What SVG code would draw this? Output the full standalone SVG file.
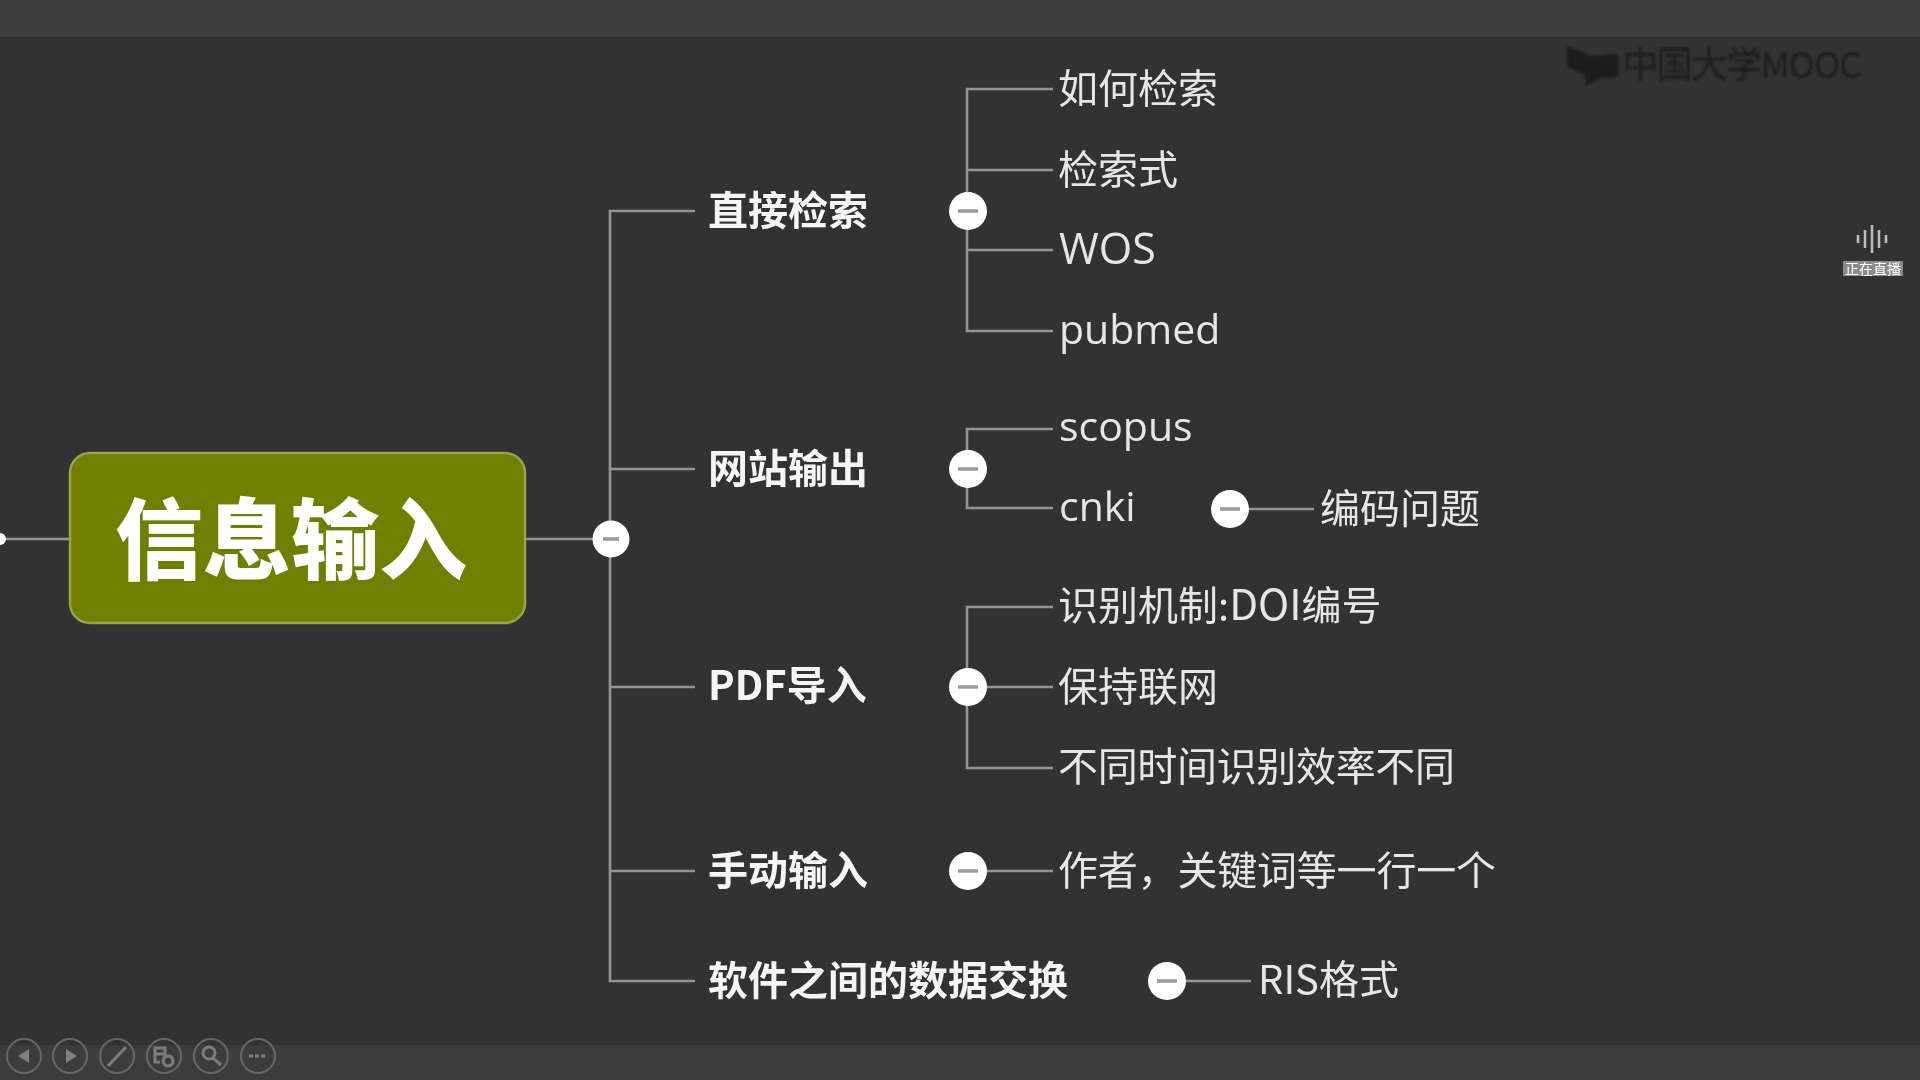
<svg xmlns="http://www.w3.org/2000/svg" width="1920" height="1080" viewBox="0 0 1920 1080">
<style>
.conn{fill:none;stroke:#949494;stroke-width:2.6}
.hub{fill:#fff}
.minus{stroke:#999;stroke-width:3.5;fill:none}
text{font-family:"Open Sans","Noto Sans CJK SC",sans-serif;fill:#e6e6e6;font-size:41px;filter:url(#soft)}
.cn{font-family:"Noto Sans CJK SC",sans-serif;font-weight:400;font-size:40px}
.b{font-family:"Noto Sans CJK SC",sans-serif;font-weight:700;fill:#f5f5f5;font-size:40px}
.tool{fill:none;stroke:#666;stroke-width:2}
.ic{fill:none;stroke:#7c7c7c;stroke-width:3}
.icf{fill:#808080}
</style>
<defs>
<filter id="soft" x="-5%" y="-20%" width="110%" height="140%"><feGaussianBlur stdDeviation="0.7"/></filter>
<filter id="soft2" x="-5%" y="-20%" width="110%" height="140%"><feGaussianBlur stdDeviation="1"/></filter>
</defs>
<rect id="background" width="1920" height="1080" fill="#323232"/>
<rect id="top-bar" width="1920" height="37" fill="#3e3e3e"/>
<rect id="bottom-bar" y="1045" width="1920" height="35" fill="#3c3c3c"/>

<g id="watermark" filter="url(#soft2)">
<path d="M1567 46 L1590 56 L1618 54 L1618 77 L1600 78 L1586 86 L1584 74 L1567 66Z" fill="#1c1c1c"/>
<text x="1622" y="78" style="font-size:36px;fill:#1e1e1e;font-family:'Noto Sans CJK SC',sans-serif;font-weight:400;filter:none" textLength="240">中国大学MOOC</text>
</g>
<g id="live-indicator" filter="url(#soft)">
<path d="M1858 235v8M1865 230v18M1872 225v28M1879 230v18M1886 235v8" stroke="#bdbdbd" stroke-width="2.5" fill="none"/>
<rect x="1843" y="261" width="60" height="15" fill="#8a8a8a"/>
<text x="1873" y="274" text-anchor="middle" style="font-size:14px;fill:#fff;font-family:'Noto Sans CJK SC',sans-serif;filter:none">正在直播</text>
</g>

<g id="connectors" filter="url(#soft)">
<path class="conn" d="M0 539H70"/>
<path class="conn" d="M525 539H611"/>
<path class="conn" d="M695 211H610V981H695"/>
<path class="conn" d="M610 469H695M610 687H695M610 871H695"/>
<path class="conn" d="M1053 89H967V331H1053"/>
<path class="conn" d="M967 170H1053M967 250H1053"/>
<path class="conn" d="M1053 429H967V508H1053"/>
<path class="conn" d="M1314 509H1229"/>
<path class="conn" d="M1053 607H967V768H1053"/>
<path class="conn" d="M967 687H1053"/>
<path class="conn" d="M967 871H1053"/>
<path class="conn" d="M1167 981H1251"/>
</g>

<g id="end-dot"><circle cx="0" cy="539" r="6" class="hub"/></g>

<g id="root">
<rect x="70" y="453" width="455" height="170" rx="20" fill="#6f8000" stroke="#96a54a" stroke-width="2.5"/>
<text x="291" y="572" text-anchor="middle" class="b" style="font-size:88px;font-weight:900;fill:#fff">信息输入</text>
</g>
<g id="hub-root"><circle cx="611" cy="539" r="18.5" class="hub"/><path class="minus" d="M603 539H619"/></g>

<g id="n-zhijie">
<text x="708" y="225" class="b">直接检索</text>
<circle cx="968" cy="211" r="19" class="hub"/><path class="minus" d="M958 211H978"/>
</g>
<g id="n-rugao"><text x="1058" y="103" class="cn">如何检索</text></g>
<g id="n-jiansuoshi"><text x="1058" y="184" class="cn">检索式</text></g>
<g id="n-wos"><text x="1059" y="264" style="font-size:43px">WOS</text></g>
<g id="n-pubmed"><text x="1059" y="344">pubmed</text></g>

<g id="n-wangzhan">
<text x="708" y="483" class="b">网站输出</text>
<circle cx="968" cy="469" r="19" class="hub"/><path class="minus" d="M958 469H978"/>
</g>
<g id="n-scopus"><text x="1059" y="441">scopus</text></g>
<g id="n-cnki">
<text x="1059" y="521">cnki</text>
<circle cx="1230" cy="509" r="19" class="hub"/><path class="minus" d="M1220 509H1240"/>
</g>
<g id="n-bianma"><text x="1320" y="523" class="cn">编码问题</text></g>

<g id="n-pdf">
<text x="708" y="700" class="b">PDF导入</text>
<circle cx="968" cy="687" r="19" class="hub"/><path class="minus" d="M958 687H978"/>
</g>
<g id="n-shibie"><text x="1058" y="620" class="cn">识别机制:<tspan style="font-size:42px">DOI</tspan>编号</text></g>
<g id="n-baochi"><text x="1058" y="701" class="cn">保持联网</text></g>
<g id="n-butong"><text x="1058" y="781" class="cn" textLength="397">不同时间识别效率不同</text></g>

<g id="n-shoudong">
<text x="708" y="885" class="b">手动输入</text>
<circle cx="968" cy="871" r="19" class="hub"/><path class="minus" d="M958 871H978"/>
</g>
<g id="n-zuozhe"><text x="1058" y="885" class="cn" textLength="438">作者，关键词等一行一个</text></g>

<g id="n-ruanjian">
<text x="708" y="995" class="b">软件之间的数据交换</text>
<circle cx="1167" cy="981" r="19" class="hub"/><path class="minus" d="M1157 981H1177"/>
</g>
<g id="n-ris"><text x="1258" y="994" class="cn">RIS格式</text></g>

<g id="toolbar" filter="url(#soft)">
<circle class="tool" cx="24" cy="1056" r="17"/><path class="icf" d="M29 1049V1063L18 1056Z"/>
<circle class="tool" cx="70" cy="1056" r="17"/><path class="icf" d="M66 1049V1063L77 1056Z"/>
<circle class="tool" cx="117" cy="1056" r="17"/><path class="ic" d="M108 1066L126 1047"/>
<circle class="tool" cx="164" cy="1056" r="17"/><path class="ic" d="M155 1048h10v6h-10zM155 1054v8h5M168 1056a5 5 0 1 0 .1 0"/>
<circle class="tool" cx="211" cy="1056" r="17"/><circle class="ic" cx="209" cy="1053" r="6"/><path class="ic" d="M213 1058L221 1065"/>
<circle class="tool" cx="258" cy="1056" r="17"/><path class="ic" d="M249 1056h18" stroke-dasharray="4 2"/>
</g>
</svg>
